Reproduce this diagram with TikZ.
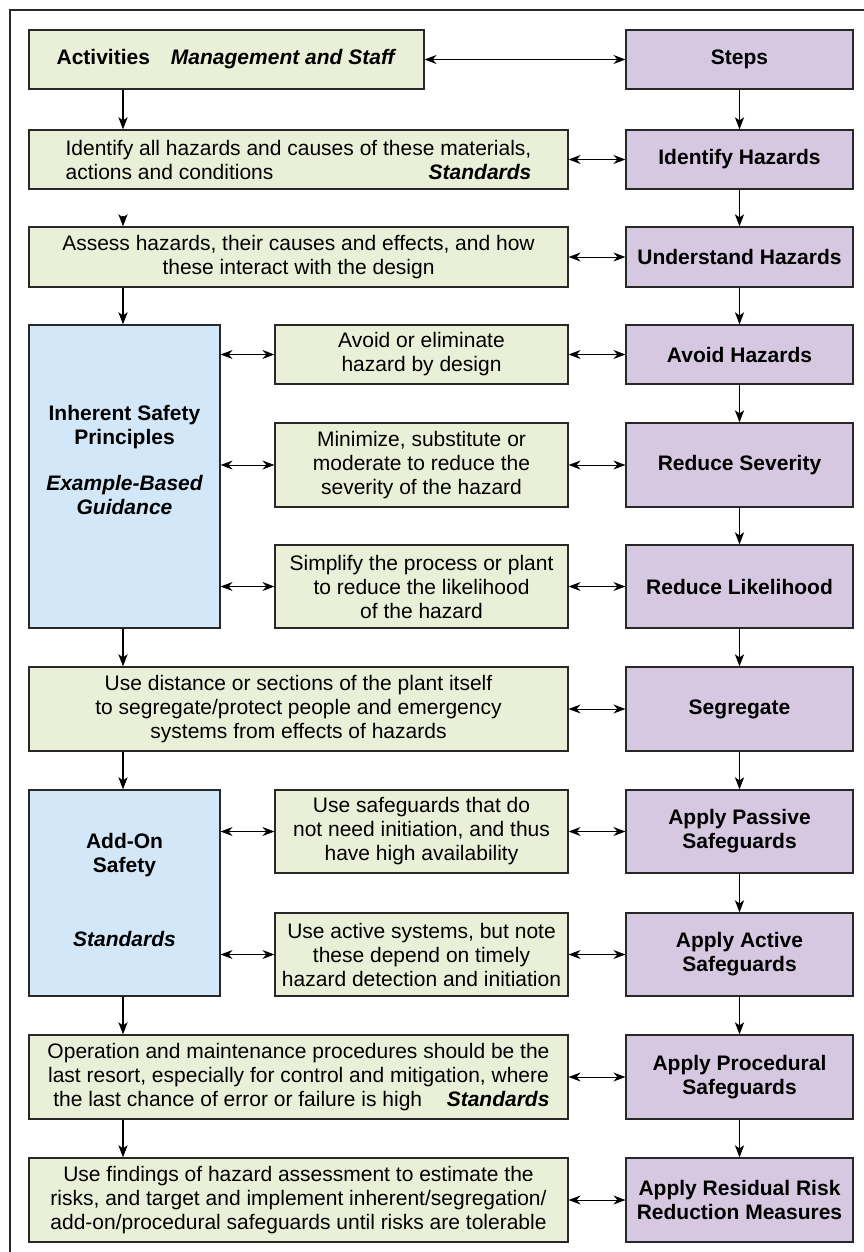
\documentclass[tikz,border=0pt]{standalone}
\usepackage{fontspec}
\setmainfont{Liberation Sans}
\usetikzlibrary{arrows.meta}
\definecolor{gbox}{RGB}{234,240,216}
\definecolor{pbox}{RGB}{214,200,225}
\definecolor{bbox}{RGB}{210,232,249}
\definecolor{edge}{RGB}{40,40,40}
\newlength\idw
\newlength\prw
\begin{document}
\settowidth{\idw}{\fontsize{21}{24}\selectfont Identify all hazards and causes of these materials,}%
\settowidth{\prw}{\fontsize{21}{24}\selectfont Operation and maintenance procedures should be the}%
\begin{tikzpicture}[x=1pt,y=-1pt,
  base/.style={draw=edge, line width=1.2pt, rectangle, inner sep=0pt, align=center, font=\fontsize{21}{24}\selectfont},
  gbx/.style={base, fill=gbox},
  pbx/.style={base, fill=pbox, font=\fontsize{21}{24}\selectfont\bfseries},
  bbx/.style={base, fill=bbox},
  lbl/.style={inner sep=0pt, align=center, font=\fontsize{21}{24}\selectfont\bfseries},
  dn/.style={line width=1.8pt, -{Stealth[length=12pt,width=9pt,inset=3pt]}},
  bi/.style={line width=0.9pt, {Stealth[length=12pt,width=9pt,inset=4pt]}-{Stealth[length=12pt,width=9pt,inset=4pt]}},
]
\useasboundingbox (0,0) rectangle (864,1252);
\fill[white] (0,0) rectangle (864,1252);
\draw[line width=1.5pt, edge] (10,1252) -- (10,10) -- (864,10);

% row 1
\node[gbx, minimum width=395pt, minimum height=59pt] (act) at (226.5,59.5)
  {\textbf{Activities}\hspace{21pt}\textbf{\textit{Management and Staff}}};
\node[pbx, minimum width=227pt, minimum height=59pt] (steps) at (739.5,59.5) {Steps};
% row 2
\node[gbx, minimum width=539pt, minimum height=59pt] (ident) at (298.5,159.5)
  {Identify all hazards and causes of these materials,\\
   \makebox[\idw][s]{actions and conditions\hfill\textbf{\textit{Standards}}}};
\node[pbx, minimum width=227pt, minimum height=59pt] (idh) at (739.5,159.5) {Identify Hazards};
% row 3
\node[gbx, minimum width=539pt, minimum height=60pt] (assess) at (298.5,257)
  {Assess hazards, their causes and effects, and how\\these interact with the design};
\node[pbx, minimum width=227pt, minimum height=60pt] (und) at (739.5,257) {Understand Hazards};
% inherent block
\node[bbx, minimum width=191pt, minimum height=303pt] (ins) at (124.5,476.5) {};
\node[lbl] (ins1) at (124.5,427) {Inherent Safety\\Principles};
\node[lbl, font=\fontsize{21}{24}\selectfont\bfseries\itshape] (ins2) at (124.5,495) {Example-Based\\Guidance};
\node[gbx, minimum width=293pt, minimum height=59pt] (avg) at (421.5,354.5)
  {Avoid or eliminate\\hazard by design};
\node[pbx, minimum width=227pt, minimum height=59pt] (avh) at (739.5,354.5) {Avoid Hazards};
\node[gbx, minimum width=293pt, minimum height=84pt] (ming) at (421.5,465)
  {Minimize, substitute or\\moderate to reduce the\\severity of the hazard};
\node[pbx, minimum width=227pt, minimum height=84pt] (rs) at (739.5,465) {Reduce Severity};
\node[gbx, minimum width=293pt, minimum height=83pt] (simg) at (421.5,586.5)
  {Simplify the process or plant\\to reduce the likelihood\\of the hazard};
\node[pbx, minimum width=227pt, minimum height=83pt] (rl) at (739.5,586.5) {Reduce Likelihood};
% segregate
\node[gbx, minimum width=539pt, minimum height=84pt] (segg) at (298.5,709)
  {Use distance or sections of the plant itself\\to segregate/protect people and emergency\\systems from effects of hazards};
\node[pbx, minimum width=227pt, minimum height=84pt] (segp) at (739.5,709) {Segregate};
% add-on block
\node[bbx, minimum width=191pt, minimum height=206pt] (aos) at (124.5,893) {};
\node[lbl] (aos1) at (124.5,855.5) {Add-On\\Safety};
\node[lbl, font=\fontsize{21}{24}\selectfont\bfseries\itshape] (aos2) at (124.5,939) {Standards};
\node[gbx, minimum width=293pt, minimum height=83pt] (pasg) at (421.5,831.5)
  {Use safeguards that do\\not need initiation, and thus\\have high availability};
\node[pbx, minimum width=227pt, minimum height=83pt] (pasp) at (739.5,831.5) {Apply Passive\\Safeguards};
\node[gbx, minimum width=293pt, minimum height=83pt] (actg) at (421.5,954.5)
  {Use active systems, but note\\these depend on timely\\hazard detection and initiation};
\node[pbx, minimum width=227pt, minimum height=83pt] (actp) at (739.5,954.5) {Apply Active\\Safeguards};
% procedural
\node[gbx, minimum width=539pt, minimum height=84pt] (procg) at (298.5,1077)
  {Operation and maintenance procedures should be the\\
   last resort, especially for control and mitigation, where\\
   \makebox[\prw][s]{\ the last chance of error or failure is high\hfill\textbf{\textit{Standards}}}};
\node[pbx, minimum width=227pt, minimum height=84pt] (procp) at (739.5,1077) {Apply Procedural\\Safeguards};
% residual
\node[gbx, minimum width=539pt, minimum height=84pt] (resg) at (298.5,1200)
  {Use findings of hazard assessment to estimate the\\risks, and target and implement inherent/segregation/\\add-on/procedural safeguards until risks are tolerable};
\node[pbx, minimum width=227pt, minimum height=84pt] (resp) at (739.5,1200) {Apply Residual Risk\\Reduction Measures};

% left column arrows
\coordinate (lx) at (123,0);
\draw[dn] (act.south -| lx) -- (ident.north -| lx);
\draw[dn, shorten <=26pt] (ident.south -| lx) -- (assess.north -| lx);
\draw[dn] (assess.south -| lx) -- (ins.north -| lx);
\draw[dn] (ins.south -| lx) -- (segg.north -| lx);
\draw[dn] (segg.south -| lx) -- (aos.north -| lx);
\draw[dn] (aos.south -| lx) -- (procg.north -| lx);
\draw[dn] (procg.south -| lx) -- (resg.north -| lx);

% right column arrows
\foreach \a/\b in {steps/idh, idh/und, und/avh, avh/rs, rs/rl, rl/segp, segp/pasp, pasp/actp, actp/procp, procp/resp}
  \draw[dn] (\a.south) -- (\b.north);

% horizontal double arrows
\draw[bi] (act.east) -- (steps.west);
\draw[bi] (ident.east) -- (idh.west);
\draw[bi] (assess.east) -- (und.west);
\draw[bi] (avg.east) -- (avh.west);
\draw[bi] (ming.east) -- (rs.west);
\draw[bi] (simg.east) -- (rl.west);
\draw[bi] (segg.east) -- (segp.west);
\draw[bi] (pasg.east) -- (pasp.west);
\draw[bi] (actg.east) -- (actp.west);
\draw[bi] (procg.east) -- (procp.west);
\draw[bi] (resg.east) -- (resp.west);
\draw[bi] (ins.east |- avg.west) -- (avg.west);
\draw[bi] (ins.east |- ming.west) -- (ming.west);
\draw[bi] (ins.east |- simg.west) -- (simg.west);
\draw[bi] (aos.east |- pasg.west) -- (pasg.west);
\draw[bi] (aos.east |- actg.west) -- (actg.west);
\end{tikzpicture}
\end{document}
